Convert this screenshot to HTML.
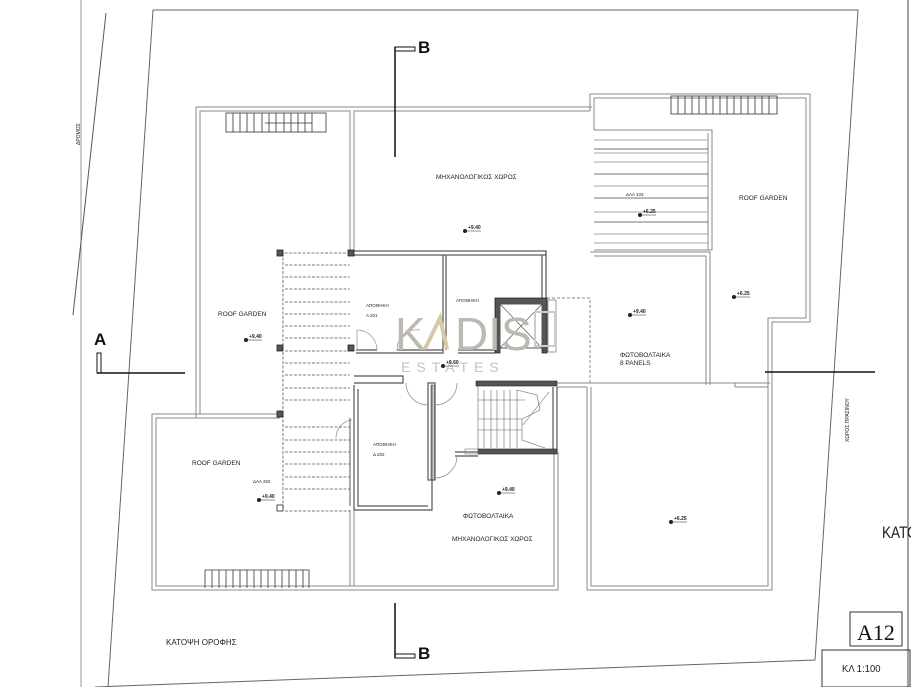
<!DOCTYPE html>
<html><head><meta charset="utf-8"><style>
html,body{margin:0;padding:0;background:#fff;}
svg{display:block;}
text{font-family:"Liberation Sans",sans-serif;fill:#222;}
</style></head><body>
<svg width="911" height="687" viewBox="0 0 911 687" xmlns="http://www.w3.org/2000/svg">
<rect width="911" height="687" fill="#fff"/>
<g fill="none" stroke="#777" stroke-width="1">
<line x1="81" y1="0" x2="81" y2="687" stroke="#999"/>
<line x1="908" y1="0" x2="908" y2="687" stroke="#444"/>
<line x1="106" y1="13" x2="73" y2="315" stroke="#555"/>
<polyline points="153,10 858,10 815,660 95,687" stroke="#666"/>
<line x1="153" y1="10" x2="108" y2="687" stroke="#666"/>
</g>
<text x="0" y="0" font-size="5" transform="translate(80,145) rotate(-90)">ΔΡΟΜΟΣ</text>
<text x="0" y="0" font-size="5" transform="translate(849,442) rotate(-90)">ΧΩΡΟΣ  ΠΡΑΣΙΝΟΥ</text>

<g fill="none" stroke="#888" stroke-width="1">
<polyline points="196,418 196,107 592,107"/>
<polyline points="200,414 200,111 350,111 350,252"/>
<polyline points="354,252 354,111 590,111"/>
<polyline points="590,111 590,94 810,94 810,322 772,322 772,590 587,590 587,387"/>
<polyline points="594,130 594,98 806,98 806,318 768,318 768,586 591,586 591,387"/>
<polyline points="594,250 712,250 712,130 594,130"/>
<line x1="708" y1="133" x2="708" y2="250"/>
<polyline points="590,252 710,252 710,385"/>
<polyline points="594,256 706,256 706,385"/>
<line x1="557" y1="383" x2="770" y2="383"/>
<line x1="557" y1="387" x2="587" y2="387"/>
<line x1="735" y1="387" x2="768" y2="387"/>
<line x1="735" y1="383" x2="735" y2="387"/>
<polyline points="196,414 152,414 152,590 558,590 558,452"/>
<polyline points="196,418 156,418 156,586 554,586 554,452"/>
<line x1="196" y1="418" x2="280" y2="418"/>
<line x1="196" y1="414" x2="280" y2="414"/>
<line x1="350" y1="510" x2="350" y2="586"/>
<line x1="354" y1="510" x2="354" y2="586"/>
<polyline points="547,298 590,298 590,385" stroke-dasharray="3,2"/>
</g>

<g fill="none" stroke="#555" stroke-width="1.2">
<rect x="352" y="251" width="194" height="4"/>
<line x1="546" y1="251" x2="546" y2="300"/>
<line x1="542" y1="255" x2="542" y2="300"/>
<line x1="443" y1="255" x2="443" y2="350"/>
<line x1="446" y1="255" x2="446" y2="350"/>
<polyline points="356,350 377,350"/>
<polyline points="397,350 443,350 443,353 356,353"/>
<line x1="458" y1="350" x2="495" y2="350"/>
<line x1="458" y1="353" x2="495" y2="353"/>
<polyline points="354,376 403,376 403,383 354,383"/>
<rect x="428" y="383" width="7" height="97"/>
<rect x="431" y="385" width="3" height="95" stroke-width="0.6"/>
<polyline points="354,385 354,510 432,510 432,385"/>
<polyline points="358,389 358,506 428,506"/>
<line x1="557" y1="387" x2="557" y2="452"/>
<line x1="553" y1="387" x2="553" y2="452"/>
<line x1="455" y1="452" x2="478" y2="452"/>
<line x1="455" y1="456" x2="478" y2="456"/>
</g>
<g fill="none" stroke="#999" stroke-width="0.8">
<path d="M377,350 A20,20 0 0 0 357,330 L357,350"/>
<path d="M397,350 A20,20 0 0 1 420,330"/>
<path d="M406,383 A22,22 0 0 0 428,405"/>
<path d="M457,383 A22,22 0 0 1 435,405"/>
<path d="M457,456 A22,22 0 0 1 435,478"/>
<path d="M352,420 A18,18 0 0 0 336,438"/>
</g>

<g>
<path d="M495,298 h52 v55 h-5 v-49 h-42 v49 h-5z" fill="#555" stroke="#222" stroke-width="0.8"/>
<rect x="500" y="304" width="42" height="44" fill="none" stroke="#555"/>
<line x1="500" y1="304" x2="542" y2="348" stroke="#555" stroke-width="0.7"/>
<line x1="542" y1="304" x2="500" y2="348" stroke="#555" stroke-width="0.7"/>
<rect x="548" y="300" width="8" height="52" fill="none" stroke="#777" stroke-width="0.7"/>
</g>

<g stroke="#666" stroke-width="0.6" fill="none">
<rect x="476" y="381" width="81" height="5" fill="#555" stroke="#222"/>
<rect x="478" y="449" width="79" height="5" fill="#555" stroke="#222"/>
<rect x="465" y="449" width="13" height="5" stroke="#777"/>
<line x1="478" y1="386" x2="478" y2="449"/>
<line x1="484" y1="390" x2="484" y2="448"/><line x1="491" y1="390" x2="491" y2="448"/>
<line x1="497" y1="390" x2="497" y2="448"/><line x1="504" y1="390" x2="504" y2="448"/>
<line x1="510" y1="390" x2="510" y2="448"/><line x1="517" y1="390" x2="517" y2="448"/>
<line x1="478" y1="400" x2="525" y2="400"/><line x1="478" y1="419" x2="522" y2="419"/>
<line x1="478" y1="430" x2="522" y2="430"/>
<polyline points="517,390 537,395 540,410 522,419 522,440 545,448"/>
<line x1="549" y1="392" x2="523" y2="425"/>
</g>

<g stroke="#555" stroke-width="0.8" stroke-dasharray="3,1.5">
<line x1="283" y1="253" x2="283" y2="510"/>
<line x1="280" y1="253" x2="350" y2="253"/>
<line x1="285" y1="265" x2="350" y2="265"/><line x1="285" y1="277" x2="350" y2="277"/>
<line x1="285" y1="289" x2="350" y2="289"/><line x1="285" y1="302" x2="350" y2="302"/>
<line x1="285" y1="314" x2="350" y2="314"/><line x1="285" y1="326" x2="350" y2="326"/>
<line x1="285" y1="338" x2="350" y2="338"/><line x1="285" y1="351" x2="350" y2="351"/>
<line x1="285" y1="363" x2="350" y2="363"/><line x1="285" y1="375" x2="350" y2="375"/>
<line x1="285" y1="388" x2="350" y2="388"/><line x1="285" y1="400" x2="350" y2="400"/>
<line x1="285" y1="427" x2="350" y2="427"/><line x1="285" y1="440" x2="350" y2="440"/>
<line x1="285" y1="452" x2="350" y2="452"/><line x1="285" y1="464" x2="350" y2="464"/>
<line x1="285" y1="477" x2="350" y2="477"/><line x1="285" y1="489" x2="350" y2="489"/>
<line x1="285" y1="511" x2="350" y2="511"/>
</g>
<line x1="350" y1="418" x2="350" y2="506" stroke="#555"/>
<g fill="#555" stroke="#222" stroke-width="0.8">
<rect x="277" y="250" width="6" height="6"/><rect x="348" y="250" width="6" height="6"/>
<rect x="277" y="345" width="6" height="6"/><rect x="348" y="345" width="6" height="6"/>
<rect x="277" y="411" width="6" height="6"/>
<rect x="277" y="505" width="6" height="6" fill="#fff"/>
</g>

<g stroke="#333" stroke-width="0.8" fill="none">
<rect x="226" y="113" width="100" height="19"/>
<path d="M233,113v19M240,113v19M247,113v19M254,113v19M262,113v19M269,113v19M276,113v19M284,113v19M291,113v19M298,113v19M305,113v19M312,113v19"/>
<line x1="265" y1="123" x2="312" y2="123"/>
<path d="M205,570h104v18M205,570v18M212,570v18M219,570v18M226,570v18M233,570v18M240,570v18M247,570v18M254,570v18M261,570v18M268,570v18M275,570v18M282,570v18M289,570v18M296,570v18M303,570v18"/>
<rect x="671" y="96" width="106" height="18"/>
<path d="M678,96v18M685,96v18M692,96v18M699,96v18M706,96v18M713,96v18M720,96v18M727,96v18M734,96v18M741,96v18M748,96v18M755,96v18M762,96v18M769,96v18"/>
</g>
<g stroke="#888" stroke-width="0.8">
<line x1="594" y1="140" x2="708" y2="140"/><line x1="594" y1="149" x2="708" y2="149" stroke="#444"/>
<line x1="594" y1="153" x2="708" y2="153"/><line x1="594" y1="162" x2="708" y2="162"/>
<line x1="594" y1="174" x2="708" y2="174" stroke="#444"/><line x1="594" y1="186" x2="708" y2="186"/>
<line x1="594" y1="198" x2="708" y2="198" stroke="#444"/><line x1="594" y1="212" x2="708" y2="212"/>
<line x1="594" y1="222" x2="708" y2="222" stroke="#444"/><line x1="594" y1="234" x2="708" y2="234"/>
<line x1="594" y1="243" x2="708" y2="243"/>
</g>

<text x="395" y="350" font-size="46" style="fill:#bdb8b2;letter-spacing:2px">K</text>
<text x="455" y="350" font-size="46" style="fill:#bdb8b2">DIS</text>
<path d="M425,349 L440,318 L447,349" fill="none" stroke="#d8c8a8" stroke-width="4"/>
<rect x="535" y="312" width="20" height="34" fill="none" stroke="#ccc" stroke-width="2"/>
<text x="401" y="372" font-size="14" style="fill:#c2c2c2;letter-spacing:6px">ESTATES</text>

<g font-size="6.5">
<text x="218" y="316">ROOF GARDEN</text>
<text x="192" y="465">ROOF GARDEN</text>
<text x="739" y="200">ROOF GARDEN</text>
<text x="436" y="179">ΜΗΧΑΝΟΛΟΓΙΚΟΣ ΧΩΡΟΣ</text>
<text x="452" y="541">ΜΗΧΑΝΟΛΟΓΙΚΟΣ ΧΩΡΟΣ</text>
<text x="463" y="518">ΦΩΤΟΒΟΛΤΑΙΚΑ</text>
<text x="620" y="357">ΦΩΤΟΒΟΛΤΑΙΚΑ</text>
<text x="620" y="365">8 PANELS</text>
</g>
<g font-size="4.5">
<text x="366" y="307">ΑΠΟΘΗΚΗ</text><text x="366" y="317">Α 201</text>
<text x="456" y="302">ΑΠΟΘΗΚΗ</text>
<text x="373" y="446">ΑΠΟΘΗΚΗ</text><text x="373" y="456">Δ 202</text>
<text x="253" y="483">ΔΑΑ 202</text>
<text x="626" y="196">ΔΑΑ 103</text>
</g>
<g font-size="5" font-weight="bold">
<g transform="translate(246,340)"><circle r="2" fill="#222"/><line x1="0" y1="0" x2="16" y2="0" stroke="#222" stroke-width="0.5"/><text x="3" y="-2">+9.40</text></g>
<g transform="translate(465,231)"><circle r="2" fill="#222"/><line x1="0" y1="0" x2="16" y2="0" stroke="#222" stroke-width="0.5"/><text x="3" y="-2">+9.40</text></g>
<g transform="translate(443,366)"><circle r="2" fill="#222"/><line x1="0" y1="0" x2="16" y2="0" stroke="#222" stroke-width="0.5"/><text x="3" y="-2">+9.60</text></g>
<g transform="translate(640,215)"><circle r="2" fill="#222"/><line x1="0" y1="0" x2="16" y2="0" stroke="#222" stroke-width="0.5"/><text x="3" y="-2">+6.25</text></g>
<g transform="translate(734,297)"><circle r="2" fill="#222"/><line x1="0" y1="0" x2="16" y2="0" stroke="#222" stroke-width="0.5"/><text x="3" y="-2">+6.25</text></g>
<g transform="translate(630,315)"><circle r="2" fill="#222"/><line x1="0" y1="0" x2="16" y2="0" stroke="#222" stroke-width="0.5"/><text x="3" y="-2">+9.40</text></g>
<g transform="translate(259,500)"><circle r="2" fill="#222"/><line x1="0" y1="0" x2="16" y2="0" stroke="#222" stroke-width="0.5"/><text x="3" y="-2">+9.40</text></g>
<g transform="translate(499,493)"><circle r="2" fill="#222"/><line x1="0" y1="0" x2="16" y2="0" stroke="#222" stroke-width="0.5"/><text x="3" y="-2">+9.40</text></g>
<g transform="translate(671,522)"><circle r="2" fill="#222"/><line x1="0" y1="0" x2="16" y2="0" stroke="#222" stroke-width="0.5"/><text x="3" y="-2">+6.25</text></g>
</g>

<g stroke="#111" stroke-width="1.5" fill="none">
<line x1="97" y1="373" x2="185" y2="373"/>
<rect x="97" y="353" width="4" height="20" stroke-width="1"/>
<line x1="765" y1="372" x2="875" y2="372"/>
<line x1="395" y1="47" x2="395" y2="157"/>
<rect x="395" y="47" width="20" height="4" stroke-width="1"/>
<line x1="395" y1="603" x2="395" y2="658"/>
<rect x="395" y="654" width="20" height="4" stroke-width="1"/>
</g>
<text x="94" y="345" font-size="17" font-weight="bold" style="fill:#111">A</text>
<text x="418" y="53" font-size="17" font-weight="bold" style="fill:#111">B</text>
<text x="418" y="659" font-size="17" font-weight="bold" style="fill:#111">B</text>

<text x="166" y="645" font-size="8">ΚΑΤΟΨΗ ΟΡΟΦΗΣ</text>
<text x="0" y="0" font-size="17" transform="translate(882,538) scale(0.8,1)">ΚΑΤΟ</text>

<rect x="850" y="612" width="52" height="34" fill="none" stroke="#333"/>
<text x="857" y="640" font-size="22" style="font-family:'Liberation Serif',serif;fill:#111">A12</text>
<rect x="822" y="650" width="88" height="37" fill="none" stroke="#333"/>
<text x="0" y="0" font-size="10" transform="translate(842,672) scale(0.95,1)">ΚΛ  1:100</text>
</svg>
</body></html>
